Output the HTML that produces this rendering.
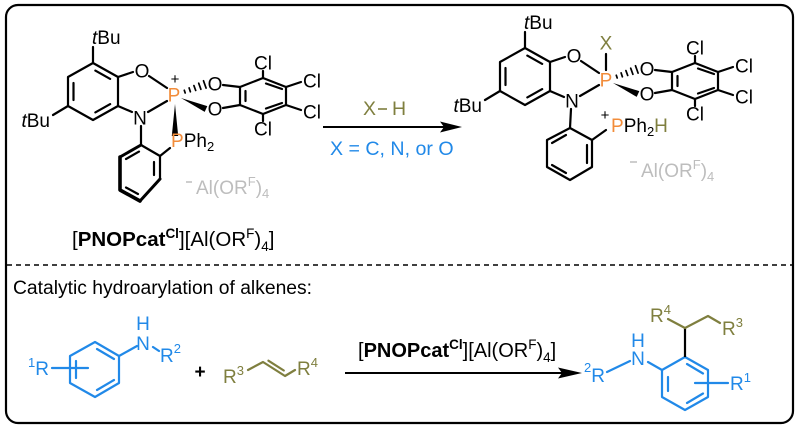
<!DOCTYPE html>
<html><head><meta charset="utf-8"><style>
html,body{margin:0;padding:0;background:#fff;}
svg{display:block;}
text{font-family:"Liberation Sans",Arial,sans-serif;}
</style></head><body>
<svg width="800" height="431" viewBox="0 0 800 431" xmlns="http://www.w3.org/2000/svg">
<rect x="6" y="5" width="787" height="418" rx="12" fill="#fff" stroke="#000" stroke-width="2.2"/>
<line x1="7" y1="265" x2="793" y2="265" stroke="#000" stroke-width="1.5" stroke-dasharray="5 4"/>

<!-- ===== core (left coords) ===== -->
<g id="coreL">
 <g stroke="#000" stroke-width="2.2" fill="none" stroke-linecap="round" stroke-linejoin="round">
  <path d="M93,63 L118,77 L118,106 L93,120 L68,106 L68,77 Z"/>
  <path d="M73.5,83 V100 M95.3,70.6 L110.2,78.9 M95.3,112.4 L110.2,104.1"/>
  <path d="M93,63 V47 M68,106 L53,115"/>
  <path d="M118,77 L133,72 M149,76 L167,88"/>
  <path d="M240,87 L263,78 L286,87 L286,105 L263,114 L240,105 Z"/>
  <path d="M245.5,91 V101 M266,83.5 L282,89 M266,108.5 L282,103"/>
  <path d="M263,78 V71 M263,114 V121 M286,87 L301,82 M286,105 L301,110"/>
  <path d="M223,85 L240,87 M223,108 L240,105"/>
  <path stroke-width="1.7" d="M184.3,90.3 L185.2,93 M189.1,87.9 L190.4,91.8 M193.9,85.6 L195.7,90.5 M198.7,83.2 L200.9,89.3 M203.5,80.8 L206.1,88.1"/>
 </g>
 <polygon points="181,98 207.3,106.1 204.7,111.9" fill="#000"/>
 <g font-size="19" fill="#000">
  <text x="92" y="44"><tspan font-style="italic">t</tspan>Bu</text>
  <text x="50" y="127" text-anchor="end"><tspan font-style="italic">t</tspan>Bu</text>
  <text x="142" y="77.5" text-anchor="middle">O</text>
  <text x="174" y="101.5" text-anchor="middle" fill="#f28c3a">P</text>
  <text x="215" y="90.5" text-anchor="middle">O</text>
  <text x="215" y="115.5" text-anchor="middle">O</text>
  <text x="263" y="69.5" text-anchor="middle">Cl</text>
  <text x="263" y="135.5" text-anchor="middle">Cl</text>
  <text x="312" y="87.5" text-anchor="middle">Cl</text>
  <text x="312" y="118.5" text-anchor="middle">Cl</text>
 </g>
</g>

<!-- left specific -->
<g stroke="#000" stroke-width="2.2" fill="none" stroke-linecap="round" stroke-linejoin="round">
 <path d="M118,106 L132,112 M148,112 L167,101 M141,126 V145"/>
 <path d="M141,145 L160,156 L160,179"/>
 <path stroke-width="3" d="M160,179 L140,201"/>
 <path stroke-width="3.6" d="M140,201 L120,190 L120,157"/>
 <path stroke-width="3" d="M120,157 L141,145"/>
 <path d="M126,159 L139,151.6 M154,162 V175 M126,187.5 L138,194"/>
 <path d="M160,156 L170,148"/>
</g>
<polygon points="175,104 178.2,136 171.8,136" fill="#000"/>
<text x="175" y="84" font-size="15" text-anchor="middle">+</text>
<text x="140" y="124.5" font-size="19" text-anchor="middle">N</text>
<text x="171" y="147" font-size="19"><tspan fill="#f28c3a">P</tspan>Ph<tspan font-size="13" dy="4">2</tspan></text>
<line x1="186" y1="182" x2="192" y2="182" stroke="#bdbdbd" stroke-width="1.5"/>
<text x="196" y="194" font-size="19" fill="#bdbdbd">Al(OR<tspan font-size="13" dy="-8">F</tspan><tspan dy="8">)</tspan><tspan font-size="13" dy="4">4</tspan></text>
<text x="72" y="246" font-size="20.5">[<tspan font-weight="bold">PNOPcat</tspan><tspan font-size="13.5" dy="-8" font-weight="bold">Cl</tspan><tspan dy="8">][Al(OR</tspan><tspan font-size="13.5" dy="-8">F</tspan><tspan dy="8">)</tspan><tspan font-size="13.5" dy="5">4</tspan><tspan dy="-5">]</tspan></text>

<!-- top arrow -->
<line x1="323" y1="127" x2="446" y2="127" stroke="#000" stroke-width="2"/>
<polygon points="462,127 440,121.5 444,127 440,132.5" fill="#000"/>
<text x="363" y="115" font-size="19.5" fill="#7f7f3f">X</text>
<line x1="378" y1="109" x2="387" y2="109" stroke="#7f7f3f" stroke-width="1.6"/>
<text x="392" y="115" font-size="19.5" fill="#7f7f3f">H</text>
<text x="330" y="155" font-size="19.6" fill="#2189e8">X = C, N, or O</text>

<!-- ===== right molecule core ===== -->
<g transform="translate(432,-15)">
 <g stroke="#000" stroke-width="2.2" fill="none" stroke-linecap="round" stroke-linejoin="round">
  <path d="M93,63 L118,77 L118,106 L93,120 L68,106 L68,77 Z"/>
  <path d="M73.5,83 V100 M95.3,70.6 L110.2,78.9 M95.3,112.4 L110.2,104.1"/>
  <path d="M93,63 V47 M68,106 L53,115"/>
  <path d="M118,77 L133,72 M149,76 L167,88"/>
  <path d="M240,87 L263,78 L286,87 L286,105 L263,114 L240,105 Z"/>
  <path d="M245.5,91 V101 M266,83.5 L282,89 M266,108.5 L282,103"/>
  <path d="M263,78 V71 M263,114 V121 M286,87 L301,82 M286,105 L301,110"/>
  <path d="M223,85 L240,87 M223,108 L240,105"/>
  <path stroke-width="1.7" d="M184.3,90.3 L185.2,93 M189.1,87.9 L190.4,91.8 M193.9,85.6 L195.7,90.5 M198.7,83.2 L200.9,89.3 M203.5,80.8 L206.1,88.1"/>
 </g>
 <polygon points="181,98 207.3,106.1 204.7,111.9" fill="#000"/>
 <g font-size="19" fill="#000">
  <text x="92" y="44"><tspan font-style="italic">t</tspan>Bu</text>
  <text x="50" y="127" text-anchor="end"><tspan font-style="italic">t</tspan>Bu</text>
  <text x="142" y="77.5" text-anchor="middle">O</text>
  <text x="174" y="101.5" text-anchor="middle" fill="#f28c3a">P</text>
  <text x="215" y="90.5" text-anchor="middle">O</text>
  <text x="215" y="115.5" text-anchor="middle">O</text>
  <text x="263" y="69.5" text-anchor="middle">Cl</text>
  <text x="263" y="135.5" text-anchor="middle">Cl</text>
  <text x="312" y="87.5" text-anchor="middle">Cl</text>
  <text x="312" y="118.5" text-anchor="middle">Cl</text>
 </g>
</g>

<!-- right specific -->
<g stroke="#000" stroke-width="2.2" fill="none" stroke-linecap="round" stroke-linejoin="round">
 <path d="M550,91 L564,97 M580,96 L599,85 M571,109 L570,128"/>
 <path d="M606,54 V70"/>
 <path d="M570,128 L592,140 L592,167 L570,180 L547,167 L547,140 Z"/>
 <path d="M552,143 L566,135 M587,145 V163 M552,165 L566,173"/>
 <path d="M592,140 L606,130"/>
</g>
<text x="606" y="49.5" font-size="19" text-anchor="middle" fill="#7f7f3f">X</text>
<text x="572" y="107.5" font-size="19" text-anchor="middle">N</text>
<text x="605" y="120" font-size="15" text-anchor="middle">+</text>
<text x="611" y="132" font-size="19"><tspan fill="#f28c3a">P</tspan>Ph<tspan font-size="13" dy="4">2</tspan><tspan dy="-4" fill="#7f7f3f">H</tspan></text>
<line x1="630" y1="162" x2="637" y2="162" stroke="#bdbdbd" stroke-width="1.5"/>
<text x="641" y="177" font-size="19" fill="#bdbdbd">Al(OR<tspan font-size="13" dy="-8">F</tspan><tspan dy="8">)</tspan><tspan font-size="13" dy="4">4</tspan></text>

<!-- ===== bottom section ===== -->
<text x="13" y="294" font-size="19.3">Catalytic hydroarylation of alkenes:</text>

<!-- aniline -->
<g stroke="#2189e8" stroke-width="2.2" fill="none" stroke-linecap="round" stroke-linejoin="round">
 <path d="M95,342 L119,356 L119,383 L95,397 L70,383 L70,356 Z"/>
 <path d="M76,361 V378 M97,349 L114,359 M97,390 L114,380"/>
 <path d="M52,368 L88,368"/>
 <path d="M119,356 L137,346 M153,347 L159,351"/>
</g>
<g font-size="19" fill="#2189e8">
 <text x="143" y="350" text-anchor="middle">N</text>
 <text x="143" y="330" text-anchor="middle">H</text>
 <text x="160" y="362">R<tspan font-size="13" dy="-9">2</tspan></text>
 <text x="28" y="375"><tspan font-size="13" dy="-8">1</tspan><tspan dy="8">R</tspan></text>
</g>
<text x="200" y="378" font-size="19" font-weight="bold" text-anchor="middle">+</text>

<!-- alkene -->
<g stroke="#7f7f3f" stroke-width="2.2" fill="none" stroke-linecap="round" stroke-linejoin="round">
 <path d="M248,370 L263,362 L285,376 L295,370"/>
 <path d="M268.4,360.7 L283.8,370.5"/>
</g>
<g font-size="19" fill="#7f7f3f">
 <text x="223" y="383">R<tspan font-size="13" dy="-8">3</tspan></text>
 <text x="297" y="375">R<tspan font-size="13" dy="-8">4</tspan></text>
</g>

<!-- bottom arrow -->
<text x="358" y="357" font-size="20">[<tspan font-weight="bold">PNOPcat</tspan><tspan font-size="13.5" dy="-8" font-weight="bold">Cl</tspan><tspan dy="8">][Al(OR</tspan><tspan font-size="13.5" dy="-8">F</tspan><tspan dy="8">)</tspan><tspan font-size="13.5" dy="5">4</tspan><tspan dy="-5">]</tspan></text>
<line x1="345" y1="373" x2="566" y2="373" stroke="#000" stroke-width="2"/>
<polygon points="582,373 558,367.5 562,373 558,378.5" fill="#000"/>

<!-- product -->
<g stroke="#2189e8" stroke-width="2.2" fill="none" stroke-linecap="round" stroke-linejoin="round">
 <path d="M662,370 L685,357 L708,370 L708,397 L685,410 L662,397 Z"/>
 <path d="M668,377 V391 M687,364 L703,373.5 M687,403 L703,393.5"/>
 <path d="M648,362 L662,370 M607,372 L630,361"/>
 <path d="M695,383 L728,383"/>
</g>
<line x1="685" y1="357" x2="685" y2="328" stroke="#000" stroke-width="2.2"/>
<g stroke="#7f7f3f" stroke-width="2.2" fill="none" stroke-linecap="round" stroke-linejoin="round">
 <path d="M685,328 L668,319 M685,328 L708,316 L720,323"/>
</g>
<g font-size="19" fill="#2189e8">
 <text x="638" y="365" text-anchor="middle">N</text>
 <text x="638" y="347" text-anchor="middle">H</text>
 <text x="584" y="382"><tspan font-size="13" dy="-10">2</tspan><tspan dy="10">R</tspan></text>
 <text x="730" y="390">R<tspan font-size="13" dy="-8">1</tspan></text>
</g>
<g font-size="19" fill="#7f7f3f">
 <text x="650" y="322">R<tspan font-size="13" dy="-8">4</tspan></text>
 <text x="722" y="335">R<tspan font-size="13" dy="-8">3</tspan></text>
</g>
</svg>
</body></html>
